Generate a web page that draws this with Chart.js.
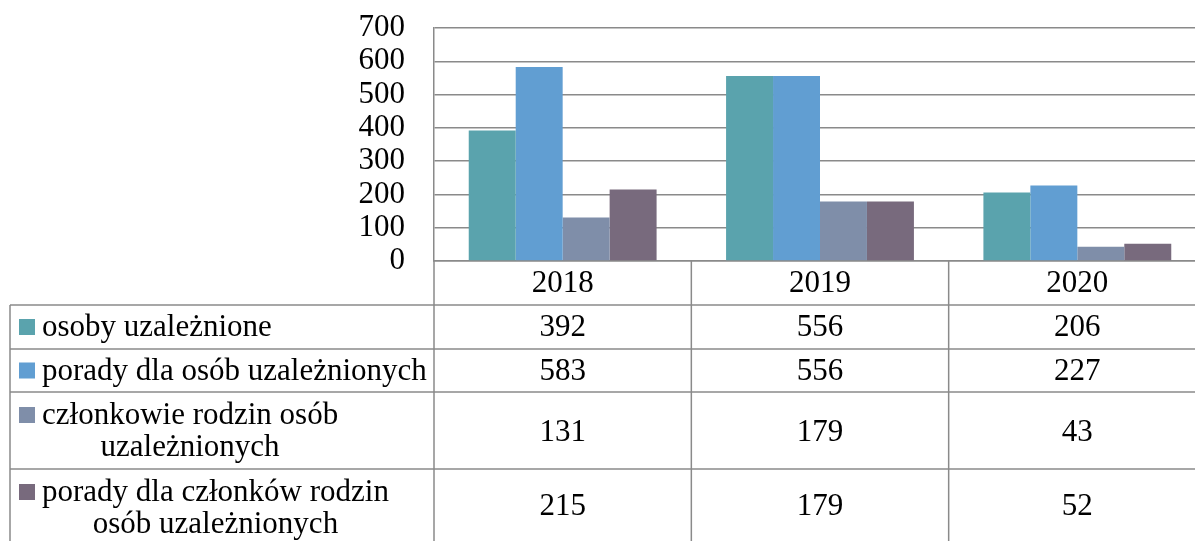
<!DOCTYPE html>
<html>
<head>
<meta charset="utf-8">
<script src="https://cdn.jsdelivr.net/npm/chart.js@4/dist/chart.umd.min.js"></script>
<style>
html,body{margin:0;padding:0;background:#fff;overflow:hidden;}
</style>
</head>
<body>
<canvas id="c" width="1210" height="541"></canvas>
<script>
const years = ['2018', '2019', '2020'];
const osobyUzaleznione = [392, 556, 206];
const poradyOsob = [583, 556, 227];
const czlonkowieRodzin = [131, 179, 43];
const poradyCzlonkow = [215, 179, 52];
const seriesLines = [
 ['osoby uzależnione'],
 ['porady dla osób uzależnionych'],
 ['członkowie rodzin osób', 'uzależnionych'],
 ['porady dla członków rodzin', 'osób uzależnionych']
];
const seriesColors = ['#5aa3ad', '#619ed2', '#7f8ea9', '#786a7d'];
const yTicks = [0, 100, 200, 300, 400, 500, 600, 700];

const FONT = '"Liberation Serif", serif';
const GRID = '#8a8a8a';
const allValues = [osobyUzaleznione, poradyOsob, czlonkowieRodzin, poradyCzlonkow];

// data table under the plot, columns follow the x scale
const tablePlugin = {
 id: 'dataTable',
 afterDraw(chart){
  const ctx = chart.ctx;
  const a = chart.chartArea;
  const colW = (a.right - a.left) / years.length;
  const edges = years.map((_, i) => a.left + i * colW).concat(a.right);
  const rows = [305, 349, 392, 469, 545];
  const tableLeft = 10;
  ctx.save();
  ctx.strokeStyle = GRID;
  ctx.lineWidth = 1.5;
  ctx.beginPath();
  edges.forEach(x => { ctx.moveTo(x, a.bottom); ctx.lineTo(x, 541); });
  ctx.moveTo(tableLeft, rows[0]); ctx.lineTo(tableLeft, 541);
  rows.forEach(y => { ctx.moveTo(tableLeft, y); ctx.lineTo(a.right, y); });
  ctx.stroke();

  ctx.fillStyle = '#000';
  ctx.font = '31px ' + FONT;
  ctx.textAlign = 'center';
  ctx.textBaseline = 'middle';
  years.forEach((y, i) => ctx.fillText(y, edges[i] + colW / 2, (a.bottom + rows[0]) / 2 + 1));

  seriesLines.forEach((lines, r) => {
   const top = rows[r], bottom = Math.min(rows[r + 1], 541);
   const mid = lines.length === 1 ? (top + bottom) / 2 + 1 : null;
   const lineH = 32;
   const firstY = lines.length === 1 ? mid : top + 24;
   const widths = lines.map(t => ctx.measureText(t).width);
   const maxW = Math.max(...widths);
   const center = 42 + maxW / 2;
   ctx.fillStyle = seriesColors[r];
   ctx.fillRect(19, firstY - 9, 16, 16);
   ctx.fillStyle = '#000';
   lines.forEach((t, k) => ctx.fillText(t, center, firstY + k * lineH));
   const valY = lines.length === 1 ? mid : (top + bottom) / 2 + 2;
   allValues[r].forEach((v, i) => ctx.fillText(String(v), edges[i] + colW / 2, valY));
  });
  ctx.restore();
 }
};

new Chart(document.getElementById('c'), {
 type: 'bar',
 data: {
  labels: years,
  datasets: seriesLines.map((l, i) => ({
   label: l.join(' '),
   data: allValues[i],
   backgroundColor: seriesColors[i],
   borderWidth: 0
  }))
 },
 options: {
  responsive: false,
  animation: false,
  layout: { padding: { left: 0, right: 4, top: 28, bottom: 280 } },
  plugins: { legend: { display: false }, tooltip: { enabled: false } },
  datasets: { bar: { categoryPercentage: 0.73, barPercentage: 1 } },
  scales: {
   x: {
    ticks: { display: false },
    grid: { display: false, drawTicks: false },
    border: { display: true, color: GRID, width: 1.5 }
   },
   y: {
    min: 0, max: 700,
    afterFit: s => { s.width = 434; s.paddingTop = 0; s.paddingBottom = 0; },
    afterBuildTicks: s => { s.ticks = yTicks.map(v => ({ value: v })); },
    ticks: { autoSkip: false, padding: 29, color: '#000', font: { family: FONT, size: 31 } },
    grid: { color: GRID, lineWidth: 1.5, drawTicks: false },
    border: { display: true, color: GRID, width: 1.5 }
   }
  }
 },
 plugins: [tablePlugin]
});
</script>
</body>
</html>
